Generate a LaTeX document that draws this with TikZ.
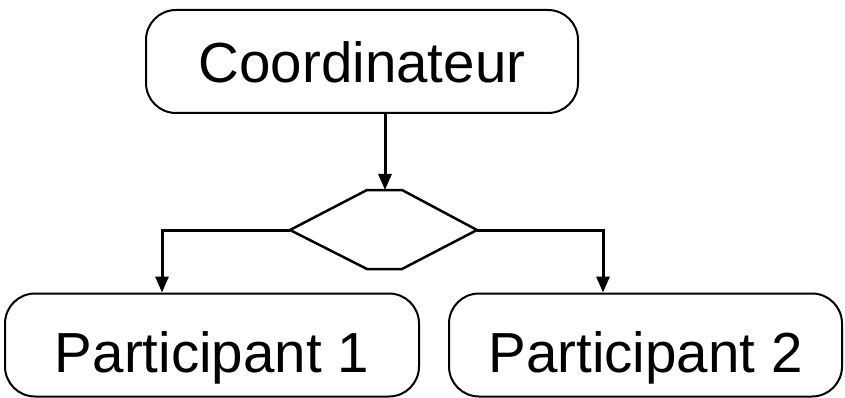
\documentclass[tikz,border=0pt]{standalone}
\usepackage{fontspec}
\setmainfont{Liberation Sans}
\usetikzlibrary{arrows.meta}
\tikzset{
  roundbox/.style={draw, line width=2pt, rounded corners=30pt, inner sep=0pt,
    text depth=0pt, font=\fontsize{56.5}{60}\selectfont},
  flow/.style={line width=3pt, -{Triangle[width=13pt,length=16pt]}},
  gate/.style={draw, line width=2.5pt, line join=miter}
}
\begin{document}
\begin{tikzpicture}[x=1pt,y=-1pt]
  \useasboundingbox (0,0) rectangle (845,398);
  % process boxes
  \node[roundbox, text height=43pt, minimum width=432pt, minimum height=103pt] (coord) at (362,61.5) {Coordinateur};
  \node[roundbox, text height=54pt, minimum width=414pt, minimum height=103pt] (p1) at (212,345) {Participant 1};
  \node[roundbox, text height=54pt, minimum width=393pt, minimum height=103pt] (p2) at (645.5,345) {Participant 2};
  % decision hexagon
  \coordinate (htl) at (367,190);
  \coordinate (ht)  at (385,190);
  \coordinate (htr) at (402,190);
  \coordinate (hr)  at (477,230);
  \coordinate (hbr) at (402,269);
  \coordinate (hbl) at (367,269);
  \coordinate (hl)  at (290,230);
  \draw[gate] (htl) -- (htr) -- (hr) -- (hbr) -- (hbl) -- (hl) -- cycle;
  % branch columns
  \coordinate (lx) at (162,0);
  \coordinate (rx) at (603,0);
  % connectors
  \draw[flow] (coord.south -| ht) -- (ht);
  \draw[flow] (hl) -| (p1.north -| lx);
  \draw[flow] (hr) -| (p2.north -| rx);
\end{tikzpicture}
\end{document}
